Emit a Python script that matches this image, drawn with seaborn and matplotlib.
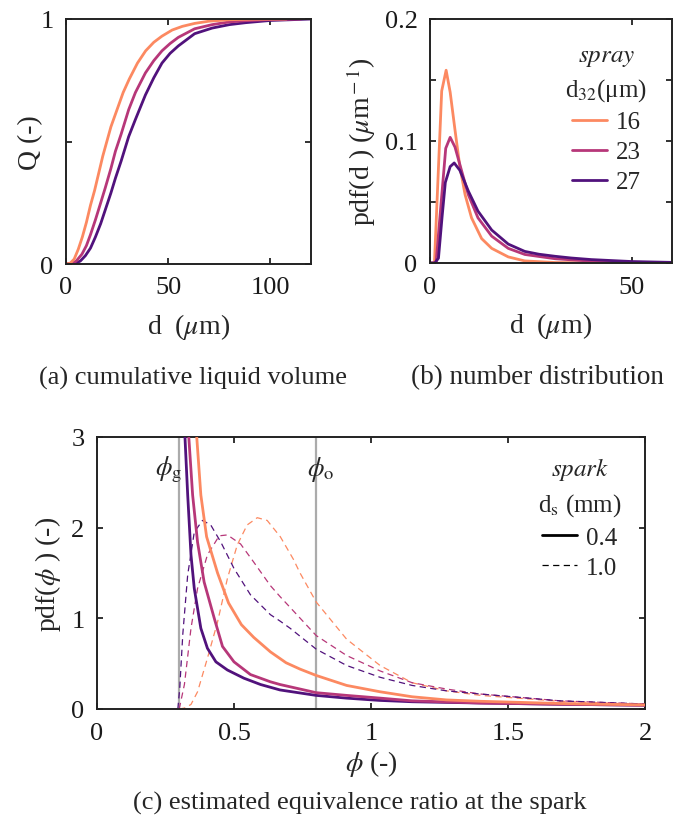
import numpy as np
import pandas as pd
import matplotlib
matplotlib.use("Agg")
import matplotlib.pyplot as plt
from matplotlib.lines import Line2D
import seaborn as sns

# ---------------- data ----------------
spray_labels = ["16", "23", "27"]
spray_colors = ["#FC8961", "#B73779", "#51127C"]

# (a) cumulative liquid volume Q(d)
d_a_16 = [0, 2, 4, 6, 8, 10, 12, 14, 16, 18, 20, 22, 25, 28, 31, 35, 39, 43, 47, 52, 57, 63, 70, 80, 90, 108]
Q_a_16 = [0, 0.003, 0.02, 0.06, 0.11, 0.17, 0.24, 0.30, 0.37, 0.44, 0.50, 0.56, 0.63, 0.70, 0.755, 0.82, 0.87,
          0.905, 0.93, 0.955, 0.97, 0.982, 0.991, 0.997, 0.999, 1.0]
d_a_23 = [0, 3, 5, 7.8, 10, 12, 14.4, 17, 19.2, 22, 24.2, 27, 30.7, 34, 38.9, 43, 47, 51, 55, 63, 71.6, 80, 88, 100, 115]
Q_a_23 = [0, 0.003, 0.012, 0.04, 0.075, 0.12, 0.18, 0.25, 0.31, 0.39, 0.46, 0.53, 0.63, 0.70, 0.78, 0.83, 0.87,
          0.90, 0.925, 0.96, 0.977, 0.988, 0.993, 0.998, 1.0]
d_a_27 = [0, 4.6, 7, 9.5, 12, 14.4, 17, 19.2, 22, 24.2, 27, 30.7, 34, 38.9, 43, 47, 51, 55, 63, 71.6, 80, 88, 100, 120]
Q_a_27 = [0, 0.003, 0.012, 0.034, 0.065, 0.11, 0.165, 0.22, 0.29, 0.35, 0.42, 0.52, 0.59, 0.69, 0.76, 0.82, 0.86,
          0.89, 0.94, 0.963, 0.977, 0.985, 0.994, 1.0]

# (b) number distribution pdf(d)
d_b_16 = [0, 1.1, 2.9, 4.0, 5.0, 6.2, 7.4, 8.7, 10.3, 12.8, 15.3, 19.4, 23.5, 31, 40, 60]
p_b_16 = [0, 0, 0.141, 0.158, 0.140, 0.109, 0.079, 0.056, 0.037, 0.020, 0.012, 0.005, 0.0017, 0.0004, 0.0001, 0]
d_b_23 = [0, 1.5, 3.9, 5.0, 6.2, 7.8, 9.5, 11.9, 15.3, 19.4, 23.5, 31, 40, 50, 60]
p_b_23 = [0, 0, 0.094, 0.103, 0.095, 0.076, 0.056, 0.037, 0.022, 0.012, 0.007, 0.0035, 0.0015, 0.0006, 0.0002]
d_b_27 = [0, 1.2, 2.1, 3.0, 3.8, 5.0, 6.0, 7.4, 9.5, 11.9, 15.3, 19.4, 23.5, 27, 31, 35, 40, 50, 60]
p_b_27 = [0, 0, 0.004, 0.038, 0.066, 0.079, 0.082, 0.076, 0.059, 0.0425, 0.027, 0.0155, 0.0095, 0.0072, 0.0055,
          0.0041, 0.0028, 0.0012, 0.0005]

# (c) equivalence ratio pdf, spark 0.4 mm (solid)
phi_s_16 = [0.357, 0.364, 0.379, 0.40, 0.44, 0.48, 0.527, 0.572, 0.633, 0.69, 0.741, 0.80, 0.911, 1.033, 1.15,
            1.276, 1.40, 1.70, 2.0]
pdf_s_16 = [3.5, 3.0, 2.36, 1.90, 1.50, 1.17, 0.93, 0.79, 0.63, 0.51, 0.44, 0.37, 0.26, 0.19, 0.135, 0.10, 0.085,
            0.06, 0.045]
phi_s_23 = [0.331, 0.335, 0.349, 0.367, 0.391, 0.428, 0.458, 0.50, 0.56, 0.633, 0.668, 0.80, 0.911, 1.033, 1.15,
            1.40, 1.70, 2.0]
pdf_s_23 = [3.5, 3.0, 2.36, 1.84, 1.40, 1.0, 0.69, 0.52, 0.38, 0.30, 0.27, 0.18, 0.15, 0.12, 0.09, 0.066, 0.052,
            0.042]
phi_s_27 = [0.316, 0.321, 0.331, 0.343, 0.355, 0.379, 0.403, 0.434, 0.476, 0.536, 0.597, 0.668, 0.80, 0.91, 1.03,
            1.15, 1.40, 1.70, 2.0]
pdf_s_27 = [3.5, 3.0, 2.36, 1.70, 1.33, 0.89, 0.67, 0.52, 0.43, 0.34, 0.27, 0.21, 0.15, 0.12, 0.095, 0.08, 0.066,
            0.052, 0.042]

# (c) spark 1.0 mm (dashed)
phi_d_16 = [0.30, 0.319, 0.343, 0.367, 0.403, 0.44, 0.476, 0.512, 0.548, 0.585, 0.621, 0.669, 0.717, 0.741, 0.80,
            0.911, 1.033, 1.15, 1.276, 1.40, 1.69, 2.0]
pdf_d_16 = [0, 0.01, 0.05, 0.19, 0.56, 0.96, 1.44, 1.81, 2.03, 2.11, 2.08, 1.90, 1.65, 1.50, 1.18, 0.77, 0.48, 0.29,
            0.20, 0.15, 0.085, 0.05]
phi_d_23 = [0.30, 0.319, 0.343, 0.367, 0.403, 0.446, 0.476, 0.524, 0.572, 0.633, 0.668, 0.705, 0.80, 0.911, 1.033,
            1.15, 1.276, 1.40, 1.69, 2.0]
pdf_d_23 = [0, 0.27, 0.89, 1.33, 1.70, 1.91, 1.92, 1.82, 1.62, 1.36, 1.24, 1.12, 0.81, 0.59, 0.42, 0.29, 0.22, 0.165,
            0.09, 0.055]
phi_d_27 = [0.295, 0.302, 0.313, 0.331, 0.355, 0.385, 0.415, 0.452, 0.50, 0.56, 0.633, 0.668, 0.705, 0.80, 0.911,
            1.033, 1.15, 1.276, 1.40, 1.69, 2.0]
pdf_d_27 = [0, 0.23, 0.82, 1.48, 1.95, 2.08, 2.03, 1.84, 1.55, 1.26, 1.04, 0.97, 0.89, 0.66, 0.48, 0.35, 0.26, 0.20,
            0.165, 0.09, 0.055]

phi_g = 0.3
phi_o = 0.8
spark_labels = ["0.4", "1.0"]

# ---------------- style ----------------
sns.set_theme(style="ticks")
plt.rcParams['font.family'] = ['Liberation Serif', 'DejaVu Serif']
plt.rcParams['mathtext.fontset'] = 'stix'
plt.rcParams['axes.unicode_minus'] = False

TICK = 19
LAB = 20
LW = 2.0
SPINE = '#222222'

fig = plt.figure(figsize=(6.81, 8.29), dpi=100)
W, H = 681, 829


def add_ax(l, t, r, b):
    return fig.add_axes([l / W, 1 - b / H, (r - l) / W, (b - t) / H])


ax_a = add_ax(66, 20, 311, 265)
ax_b = add_ax(430, 20, 672, 264)
ax_c = add_ax(97, 438, 645, 710)


def style(ax):
    for s in ax.spines.values():
        s.set_linewidth(1.4)
        s.set_color(SPINE)
        s.set_visible(True)
    ax.tick_params(direction='in', top=True, right=True, length=4, width=1.3, color=SPINE,
                   labelsize=TICK, pad=9, labelcolor='#1a1a1a')


def line(ax, x, y, c, lw=LW, ls='-', z=2):
    df = pd.DataFrame({"x": x, "y": y})
    sns.lineplot(data=df, x="x", y="y", ax=ax, color=c, lw=lw, sort=False, estimator=None,
                 legend=False, linestyle=ls, zorder=z)


# (a)
for x, y, c in [(d_a_27, Q_a_27, spray_colors[2]), (d_a_23, Q_a_23, spray_colors[1]),
                (d_a_16, Q_a_16, spray_colors[0])]:
    line(ax_a, x, y, c)
ax_a.set_xlim(0, 120)
ax_a.set_ylim(0, 1)
ax_a.set_xticks([0, 50, 100])
ax_a.set_yticks([0, 0.5, 1])
ax_a.set_yticklabels(['0', '', '1'])
ax_a.set_xlabel(r"d  ($\mu$m)", fontsize=LAB, labelpad=9)
ax_a.set_ylabel("Q (-)", fontsize=LAB, labelpad=-2)
style(ax_a)

# (b)
for x, y, c in [(d_b_16, p_b_16, spray_colors[0]), (d_b_23, p_b_23, spray_colors[1]),
                (d_b_27, p_b_27, spray_colors[2])]:
    line(ax_b, x, y, c)
ax_b.set_xlim(0, 60)
ax_b.set_ylim(0, 0.2)
ax_b.set_xticks([0, 50])
ax_b.set_yticks([0, 0.05, 0.1, 0.15, 0.2])
ax_b.set_yticklabels(['0', '', '0.1', '', '0.2'])
ax_b.set_xlabel(r"d  ($\mu$m)", fontsize=LAB, labelpad=9)
ax_b.set_ylabel(r"pdf(d ) ($\mu$m$^{\rm -1}$)", fontsize=LAB, labelpad=5)
style(ax_b)
hb = [Line2D([], [], color=c, lw=LW) for c in spray_colors]
leg_b = ax_b.legend(hb, spray_labels, title=r"$\it{spray}$" + "\n" + r"d$_{32}$(μm)", frameon=False,
                    loc='upper right', bbox_to_anchor=(0.897, 0.89), fontsize=18, title_fontsize=18,
                    handlelength=1.4, handletextpad=0.35, labelspacing=0.3, borderpad=0, borderaxespad=0)
leg_b.get_title().set_multialignment('center')
leg_b.get_title().set_linespacing(1.45)

# (c)
ax_c.axvline(phi_g, color='#ABABAB', lw=1.6, zorder=1)
ax_c.axvline(phi_o, color='#ABABAB', lw=1.6, zorder=1)
for x, y, c in [(phi_d_16, pdf_d_16, spray_colors[0]), (phi_d_23, pdf_d_23, spray_colors[1]),
                (phi_d_27, pdf_d_27, spray_colors[2])]:
    line(ax_c, x, y, c, lw=0.9, ls=(0, (5, 3.5)), z=2)
for x, y, c in [(phi_s_27, pdf_s_27, spray_colors[2]), (phi_s_23, pdf_s_23, spray_colors[1]),
                (phi_s_16, pdf_s_16, spray_colors[0])]:
    line(ax_c, x, y, c, lw=LW, z=3)
ax_c.set_xlim(0, 2)
ax_c.set_ylim(0, 3)
ax_c.set_xticks([0, 0.5, 1, 1.5, 2])
ax_c.set_xticklabels(['0', '0.5', '1', '1.5', '2'])
ax_c.set_yticks([0, 1, 2, 3])
ax_c.set_xlabel(r"$\phi$ (-)", fontsize=LAB, labelpad=3)
ax_c.set_ylabel(r"pdf($\phi$ ) (-)", fontsize=LAB, labelpad=6)
style(ax_c)
ax_c.text(phi_g + 0.01, 2.65, r"$\phi_{\rm g}$", fontsize=19, ha='right', va='center')
ax_c.text(phi_o - 0.035, 2.65, r"$\phi_{\rm o}$", fontsize=19, ha='left', va='center')
hc = [Line2D([], [], color='black', lw=LW), Line2D([], [], color='black', lw=0.9, ls=(0, (5, 3.5)))]
leg_c = ax_c.legend(hc, spark_labels, title=r"$\it{spark}$" + "\n" + r"d$_{\rm s}$ (mm)", frameon=False,
                    loc='upper right', bbox_to_anchor=(0.957, 0.935), fontsize=18, title_fontsize=18,
                    handlelength=1.4, handletextpad=0.35, labelspacing=0.32, borderpad=0, borderaxespad=0)
leg_c.get_title().set_multialignment('center')
leg_c.get_title().set_linespacing(1.5)

# captions
fig.text(193 / W, 1 - 378 / H, "(a) cumulative liquid volume", ha='center', va='center', fontsize=19)
fig.text(537 / W, 1 - 378 / H, "(b) number distribution", ha='center', va='center', fontsize=19.5)
fig.text(360 / W, 1 - 803 / H, "(c) estimated equivalence ratio at the spark", ha='center', va='center',
         fontsize=19)

fig.savefig("out.png", dpi=100)
